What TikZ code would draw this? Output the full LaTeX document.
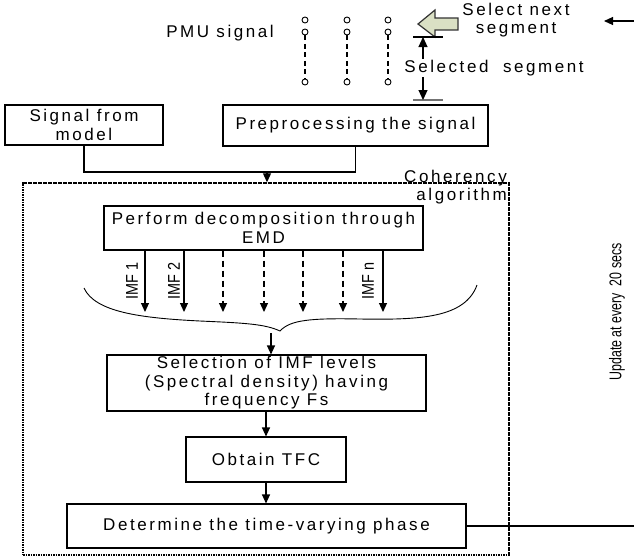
\documentclass[tikz,border=0pt]{standalone}
\usepackage{fontspec}
\setmainfont{Liberation Sans}[LetterSpace=15]
\newfontfamily\narrowf{Liberation Sans}
\usetikzlibrary{arrows.meta}
\definecolor{khaki}{RGB}{218,224,196}
\begin{document}
\begin{tikzpicture}[x=1pt,y=-1pt,
  every node/.style={font=\fontsize{17}{18.5}\selectfont},
  box/.style={draw, line width=1.1pt, inner sep=0pt, align=center},
  arr/.style={-{Triangle[length=9pt,width=8pt]}, line width=1.1pt},
  darr/.style={{Triangle[length=10pt,width=9pt]}-{Triangle[length=10pt,width=9pt]}, line width=1.1pt},
  ln/.style={line width=1.1pt},
  imfd/.style={dash pattern=on 6pt off 4pt},
  dot/.style={circle, draw, line width=0.9pt, inner sep=0pt, minimum size=6pt},
  narrow/.style={rotate=90, inner sep=0pt}]
\useasboundingbox (0,0) rectangle (634,558);

% PMU signal samples
\node (pmu) at (220,33) {PMU signal};
\foreach \c/\x in {a/305,b/347,c/388}{
  \node[dot] (\c1) at (\x,20) {};
  \node[dot] (\c2) at (\x,32) {};
  \node[dot] (\c3) at (\x,82) {};
  \draw[line width=1.6pt, dash pattern=on 5pt off 3.5pt] (\c2.south) -- (\c3.north);
}

% block arrow
\draw[line width=1.2pt, fill=khaki, draw=black!80] (418,24) -- (435,10) -- (435,18) -- (458,18) -- (458,30) -- (435,30) -- (435,37) -- cycle;
\node[align=center] (next) at (516,20) {Select next\\segment};
\coordinate (rin) at (634,21);
\coordinate (rtip) at (604,21);
\draw[arr] (rin) -- (rtip);

% selected segment
\coordinate (segT) at (423,37);
\coordinate (segB) at (423,100);
\draw[ln] (413,37) -- (443,37);
\draw[line width=1.4pt, black!55] (413,100) -- (443,100);
\draw[darr] (segT) -- (segB);
\node[fill=white, inner sep=1pt] (seg) at (494,68) {Selected\ \ segment};

% top boxes
\node[box, minimum width=158pt, minimum height=40pt] (model) at (84,125) {Signal from\\model};
\node[box, minimum width=265pt, minimum height=41pt] (prep) at (355.5,125.5) {Preprocessing the signal};
\coordinate (jl) at (84,172);
\coordinate (jr) at (355.5,172);
\coordinate (jm) at (267,172);
\draw[ln] (model.south) -- (jl) -- (jr) -- (prep.south);

% coherency box
\node[draw, line width=1.4pt, dash pattern=on 1.6pt off 0.9pt, minimum width=486pt, minimum height=372pt, inner sep=0pt] (coh) at (266,369) {};
\draw[arr] (jm) -- (jm |- coh.north);
\node[anchor=east, align=right, inner sep=0pt] (cohl) at (507,187) {Coherency\\algorithm};

% EMD
\node[box, minimum width=319pt, minimum height=44pt] (emd) at (263.5,228) {Perform decomposition through\\EMD};
\foreach \x/\s in {145/solid,184/solid,223/imfd,264/imfd,303/imfd,343/imfd,383/solid}{
  \coordinate (i\x) at (\x,312);
  \draw[arr,\s] (emd.south -| i\x) -- (i\x);
}
\node[narrow] (imf1) at (132,281) {\narrowf\scalebox{0.85}[1]{IMF 1}};
\node[narrow] (imf2) at (174,281) {\narrowf\scalebox{0.85}[1]{IMF 2}};
\node[narrow] (imfn) at (368,281) {\narrowf\scalebox{0.85}[1]{IMF n}};

% brace
\draw[line width=0.9pt] (84,288) .. controls (95,312) and (140,318) .. (200,321)
  .. controls (245,323) and (265,324) .. (280,331)
  .. controls (290,320) and (310,318) .. (360,319)
  .. controls (420,320) and (465,318) .. (477,285);
\coordinate (bt) at (271,333);

% lower boxes
\node[box, minimum width=319pt, minimum height=56pt] (sel) at (266.5,383) {Selection of IMF levels\\(Spectral density) having\\frequency Fs};
\draw[arr] (bt) -- (bt |- sel.north);
\node[box, minimum width=160pt, minimum height=45pt] (tfc) at (266,459.5) {Obtain TFC};
\node[box, minimum width=399pt, minimum height=44pt] (det) at (266.5,526) {Determine the time-varying phase};
\draw[arr] (sel.south -| tfc.north) -- (tfc.north);
\draw[arr] (tfc.south) -- (tfc.south |- det.north);
\coordinate (rout) at (634,526);
\draw[ln] (det.east) -- (rout);

% update label
\node[narrow] (upd) at (617,312) {\narrowf\scalebox{0.73}[1]{Update at every\ \ 20 secs}};
\end{tikzpicture}
\end{document}
